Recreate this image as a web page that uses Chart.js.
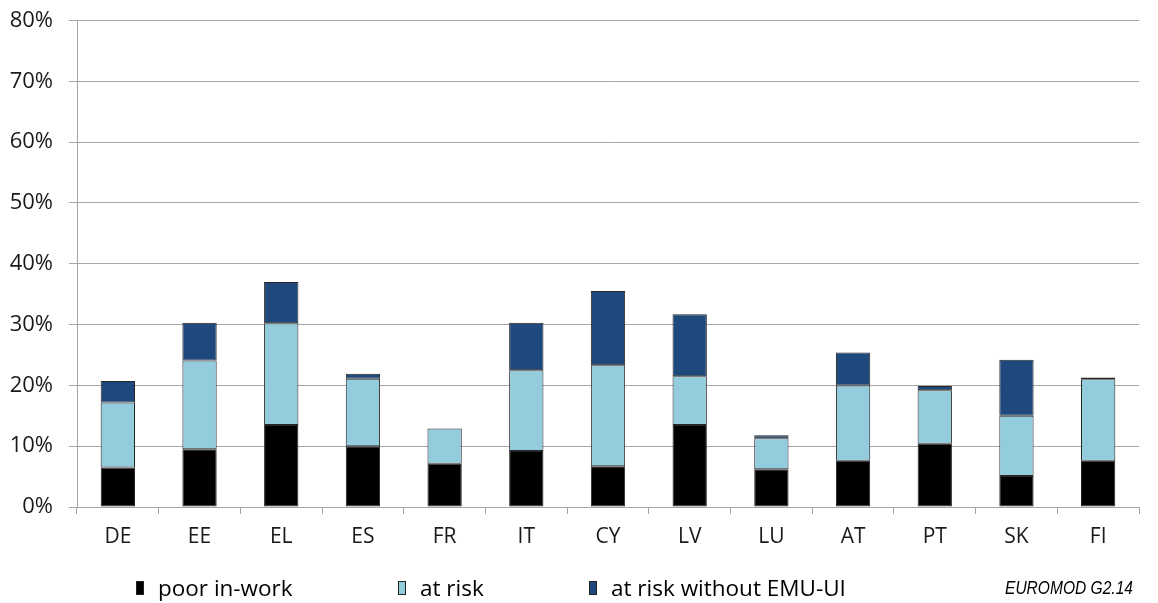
<!DOCTYPE html>
<html>
	<head>
		<meta charset="UTF-8">
		<title></title>
		<style type="text/css">
			body{
				margin: 0;
				background: #fff;
			}
			#wrap{
				position: relative;
				width: 1158px;
				height: 603px;
			}
			.box{
				position: absolute;
				top: 581px;
				width: 8px;
				height: 14px;
				box-sizing: border-box;
				border: 1px solid #222;
			}
			.leg{
				position: absolute;
				top: 575px;
				font-family: "Open Sans", sans-serif;
				font-size: 22.5px;
				color: #000;
				white-space: nowrap;
				line-height: 26px;
			}
			#src{
				position: absolute;
				left: 1005px;
				top: 578px;
				line-height: 20px;
				font-family: "Liberation Sans", sans-serif;
				font-style: italic;
				font-size: 17.7px;
				color: #000;
				white-space: nowrap;
				transform: scaleX(0.88);
				transform-origin: left top;
			}
		</style>
	</head>
	<body>
		<div id="wrap">
			<canvas id="myChart"></canvas>
			<div id="legend"></div>
			<div id="src">EUROMOD G2.14</div>
		</div>
	</body>
	<script src="https://cdn.jsdelivr.net/npm/chart.js@4"></script>
	<script>
		// values (percentage points per segment)
		var countries = ['DE','EE','EL','ES','FR','IT','CY','LV','LU','AT','PT','SK','FI'];
		var poorInWork = [6.5, 9.5, 13.5, 10.0, 7.1, 9.2, 6.7, 13.5, 6.2, 7.6, 10.4, 5.1, 7.6];
		var atRisk = [10.7, 14.6, 16.7, 11.1, 5.8, 13.3, 16.6, 8.0, 5.1, 12.4, 8.8, 9.9, 13.4];
		var atRiskNoUI = [3.5, 6.2, 6.8, 0.8, 0.0, 7.8, 12.2, 10.2, 0.5, 5.4, 0.7, 9.2, 0.3];
		var seriesNames = ['poor in-work', 'at risk', 'at risk without EMU-UI'];
		var seriesColors = ['#000000', '#93cddd', '#1f497d'];
		var legendX = [136, 398, 589];

		var allSeries = [poorInWork, atRisk, atRiskNoUI];
		var datasets = [];
		allSeries.forEach(function(d, i){
			datasets.push({
				label: seriesNames[i],
				data: d,
				backgroundColor: seriesColors[i],
				borderColor: '#262626',
				borderWidth: 1,
				borderSkipped: false,
				barPercentage: 0.42,
				categoryPercentage: 1
			});
		});

		var legendHtml = '';
		seriesNames.forEach(function(n, i){
			legendHtml += '<div class="box" style="left:' + legendX[i] + 'px;background:' + seriesColors[i] + '"></div>';
			legendHtml += '<div class="leg" style="left:' + (legendX[i] + 22) + 'px">' + n + '</div>';
		});
		document.getElementById('legend').innerHTML = legendHtml;

		var ctx = document.getElementById('myChart').getContext('2d');
		var chart = new Chart(ctx, {
			type: 'bar',
			data: {
				labels: countries,
				datasets: datasets
			},
			options: {
				responsive: true,
				maintainAspectRatio: false,
				animation: false,
				layout: {padding: {top: 0, right: 19, left: 0, bottom: 0}},
				plugins: {
					legend: {display: false},
					tooltip: {enabled: false}
				},
				scales: {
					x: {
						stacked: true,
						afterFit: function(s){ s.height = 96; },
						border: {color: '#a6a6a6', width: 1},
						grid: {
							offset: true,
							drawOnChartArea: false,
							drawTicks: true,
							tickLength: 7,
							color: '#a6a6a6'
						},
						ticks: {
							padding: 10,
							color: '#1a1a1a',
							font: {family: 'Open Sans', size: 21}
						}
					},
					y: {
						stacked: true,
						min: 0,
						max: 80,
						afterFit: function(s){ s.width = 77; },
						border: {color: '#a6a6a6', width: 1},
						grid: {
							color: '#a6a6a6',
							lineWidth: 1,
							tickLength: 8
						},
						ticks: {
							stepSize: 10,
							padding: 16,
							color: '#1a1a1a',
							font: {family: 'Open Sans', size: 22, lineHeight: 0.41},
							callback: function(v){ return v + '%'; }
						}
					}
				}
			}
		});
	</script>
</html>
